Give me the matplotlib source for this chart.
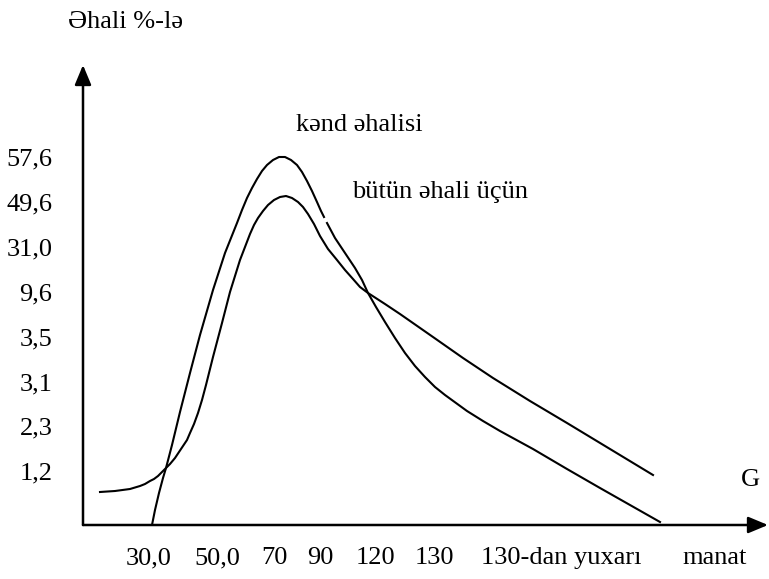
import numpy as np
import matplotlib
matplotlib.use("Agg")
import matplotlib.pyplot as plt

plt.rcParams['font.family'] = ['Liberation Serif', 'DejaVu Serif']

# y labels (top to bottom) and x labels along the income axis
y_labels = ["57,6", "49,6", "31,0", "9,6", "3,5", "3,1", "2,3", "1,2"]
y_top = 36.8
y_step = 4.49
x_labels = ["30,0", "50,0", "70", "90", "120", "130", "130-dan yuxarı"]
x_pos = [6.6, 13.4, 19.1, 23.7, 29.2, 35.1, 47.8]

# kənd əhalisi curve (nan = small break in the line)
kend_x = [6.9, 7.2, 7.6, 8.0, 8.3, 8.9, 9.7, 10.7, 11.7, 13.0, 14.2, 15.4, 15.9,
          16.4, 16.9, 17.4, 17.9, 18.4, 19.0, 19.6, 20.2, 20.8, 21.4, 21.9, 22.4,
          22.9, 23.4, 23.8, 24.1, np.nan,
          24.4, 25.2, 26.2, 27.2, 27.9, 28.5, 29.3, 30.2, 31.2, 32.2, 33.2, 34.2,
          35.2, 36.2, 37.3, 38.4, 40.0, 41.7, 45.0, 48.4, 51.7, 54.7, 57.7]
kend_y = [0.0, 1.5, 3.2, 4.7, 5.7, 8.0, 11.3, 15.2, 19.0, 23.5, 27.2, 30.2, 31.5,
          32.7, 33.7, 34.6, 35.4, 36.0, 36.5, 36.8, 36.8, 36.5, 36.0, 35.3, 34.4,
          33.4, 32.3, 31.4, 30.8, np.nan,
          30.2, 28.7, 27.2, 25.7, 24.5, 23.2, 21.8, 20.3, 18.7, 17.2, 15.9, 14.8,
          13.8, 13.0, 12.2, 11.4, 10.4, 9.4, 7.6, 5.6, 3.7, 2.0, 0.3]

# bütün əhali üçün curve
butun_x = [1.7, 3.2, 4.7, 5.7, 6.2, 6.7, 7.1, 7.5, 7.9, 8.3, 8.7, 9.2, 9.6, 10.0,
           10.4, 10.7, 11.1, 11.5, 11.9, 12.3, 13.0, 13.9, 14.7, 15.7, 16.7, 17.1,
           17.5, 18.0, 18.5, 19.1, 19.7, 20.3, 20.9, 21.5, 22.0, 22.5, 23.1, 23.7,
           24.5, 25.4, 26.2, 27.0, 27.7, 28.5, 30.2, 31.7, 35.0, 38.0, 41.0, 44.7,
           48.4, 52.7, 57.0]
butun_y = [3.3, 3.4, 3.6, 3.9, 4.1, 4.4, 4.6, 4.9, 5.3, 5.7, 6.1, 6.7, 7.3, 7.9,
           8.5, 9.2, 10.1, 11.2, 12.5, 14.0, 16.8, 20.2, 23.3, 26.5, 29.1, 30.0,
           30.7, 31.4, 32.0, 32.5, 32.8, 32.9, 32.7, 32.3, 31.8, 31.1, 30.1, 28.9,
           27.6, 26.5, 25.5, 24.6, 23.8, 23.2, 22.1, 21.1, 18.8, 16.7, 14.7, 12.4,
           10.2, 7.6, 5.0]

FS = 19

fig = plt.figure(figsize=(7.69, 5.79), dpi=100)
ax = fig.add_axes([83 / 769, 54 / 579, 686 / 769, 525 / 579])
ax.set_xlim(0, 68.6)
ax.set_ylim(0, 52.5)
for s in ax.spines.values():
    s.set_visible(False)

ax.plot(kend_x, kend_y, color='black', lw=1.5, solid_joinstyle='round')
ax.plot(butun_x, butun_y, color='black', lw=1.5, solid_joinstyle='round')

# axes with arrow heads
arrow = dict(arrowstyle='-|>,head_length=1.2,head_width=0.5', lw=1.8,
             color='black', shrinkA=0, shrinkB=0, mutation_scale=10)
ax.annotate('', xy=(0, 46.0), xytext=(0, 0), arrowprops=arrow, annotation_clip=False)
ax.annotate('', xy=(68.5, 0), xytext=(0, 0), arrowprops=arrow, annotation_clip=False)

y_pos = [y_top - i * y_step for i in range(len(y_labels))]
ax.set_yticks(y_pos, y_labels, fontsize=FS)
ax.set_xticks(x_pos, x_labels, fontsize=FS)
ax.tick_params(axis='y', length=0, pad=22)
ax.tick_params(axis='x', length=0, pad=16)

ax.annotate("manat", xy=(63.2, 0), xycoords=('data', 'axes fraction'),
            xytext=(0, -16), textcoords='offset points', fontsize=FS,
            ha='center', va='top', annotation_clip=False)
ax.text(4.3, 50.3, "Əhali %-lə", fontsize=FS, ha='center', va='center', clip_on=False)
ax.text(66.7, 4.5, "G", fontsize=FS, ha='center', va='center')
ax.text(27.6, 40.0, "kənd əhalisi", fontsize=FS, ha='center', va='center')
ax.text(35.7, 33.3, "bütün əhali üçün", fontsize=FS, ha='center', va='center')

plt.savefig("out.png", dpi=100)
